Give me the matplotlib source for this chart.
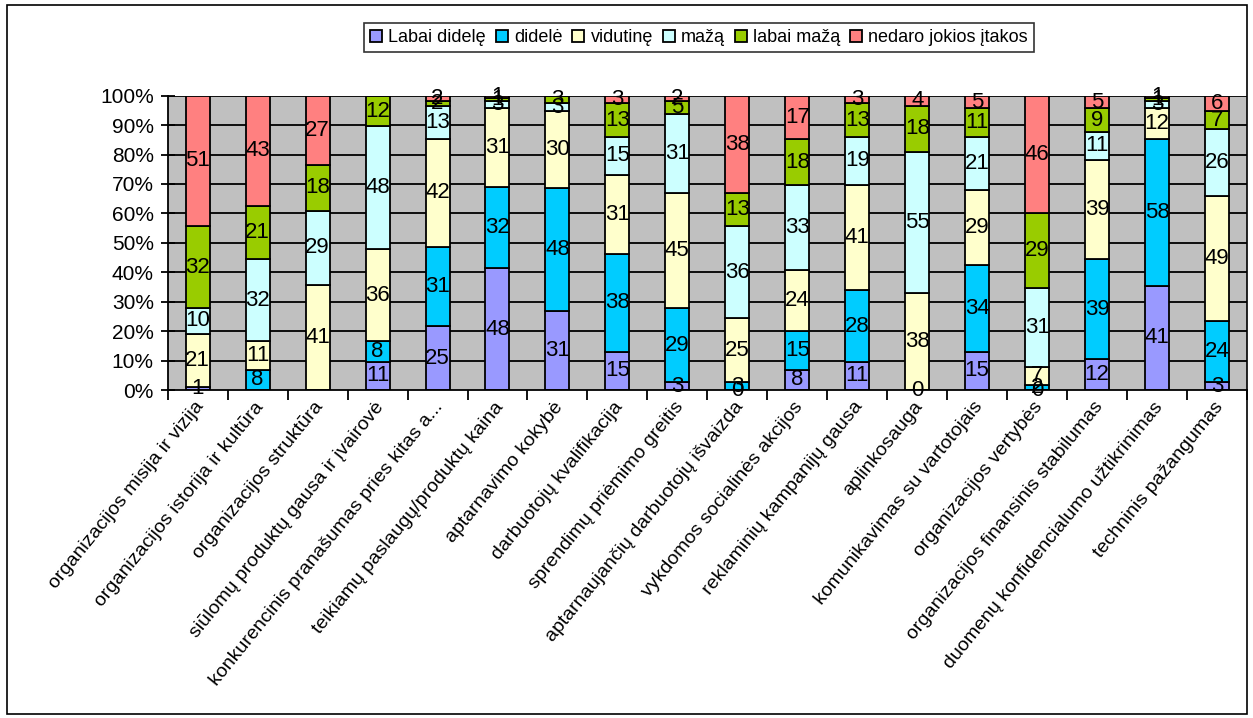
import numpy as np
import matplotlib
matplotlib.use("Agg")
import matplotlib.pyplot as plt
from matplotlib.patches import Rectangle

plt.rcParams['font.family'] = ['Liberation Sans', 'DejaVu Sans']

categories = [
    "organizacijos misija ir vizija",
    "organizacijos istorija ir kultūra",
    "organizacijos struktūra",
    "siūlomų produktų gausa ir įvairovė",
    "konkurencinis pranašumas pries kitas a...",
    "teikiamų paslaugų/produktų kaina",
    "aptarnavimo kokybė",
    "darbuotojų kvalifikacija",
    "sprendimų priėmimo greitis",
    "aptarnaujančių darbuotojų išvaizda",
    "vykdomos socialinės akcijos",
    "reklaminių kampanijų gausa",
    "aplinkosauga",
    "komunikavimas su vartotojais",
    "organizacijos vertybės",
    "organizacijos finansinis stabilumas",
    "duomenų konfidencialumo užtikrinimas",
    "techninis pažangumas",
]

nan = np.nan
labai_didele = [1, nan, nan, 11, 25, 48, 31, 15, 3, 0, 8, 11, 0, 15, 0, 12, 41, 3]
didele       = [nan, 8, nan, 8, 31, 32, 48, 38, 29, 3, 15, 28, nan, 34, 2, 39, 58, 24]
vidutine     = [21, 11, 41, 36, 42, 31, 30, 31, 45, 25, 24, 41, 38, 29, 7, 39, 12, 49]
maza         = [10, 32, 29, 48, 13, 3, 3, 15, 31, 36, 33, 19, 55, 21, 31, 11, 3, 26]
labai_maza   = [32, 21, 18, 12, 2, 1, 3, 13, 5, 13, 18, 13, 18, 11, 29, 9, 1, 7]
nedaro       = [51, 43, 27, nan, 2, 1, nan, 3, 2, 38, 17, 3, 4, 5, 46, 5, 1, 6]

series_names = ["Labai didelę", "didelė", "vidutinę", "mažą", "labai mažą",
                "nedaro jokios įtakos"]
series_colors = ["#9999FF", "#00CCFF", "#FFFFCC", "#CCFFFF", "#99CC00", "#FF8080"]
y_ticks = [0, 10, 20, 30, 40, 50, 60, 70, 80, 90, 100]

data = np.array([labai_didele, didele, vidutine, maza, labai_maza, nedaro], dtype=float)
totals = np.nansum(data, axis=0)
shares = np.nan_to_num(data) / totals * 100.0

W, H = 1253, 718
fig = plt.figure(figsize=(W / 100, H / 100), dpi=100)
fig.patch.set_facecolor("white")

# chart frame
fig.add_artist(Rectangle((7 / W, 4 / H), 1240 / W, 709 / H, transform=fig.transFigure,
                         fill=False, edgecolor="black", linewidth=1.2))

left, right, top, bottom = 167.7, 1247.0, 95.7, 390.0
ax = fig.add_axes([left / W, 1 - bottom / H, (right - left) / W, (bottom - top) / H])
ax.set_facecolor("#C0C0C0")

x = np.arange(len(categories))
ax.set_xlim(-0.5, len(categories) - 0.5)
ax.set_ylim(0, 100)

for yv in y_ticks[1:]:
    ax.axhline(yv, color="black", linewidth=1.3, zorder=1)

base = np.zeros(len(categories))
for i, (name, col) in enumerate(zip(series_names, series_colors)):
    ax.bar(x, shares[i], width=0.4, bottom=base, color=col, edgecolor="black",
           linewidth=1.3, label=name, zorder=2)
    for j in range(len(categories)):
        if not np.isnan(data[i, j]):
            ax.text(x[j], base[j] + shares[i, j] / 2, f"{int(data[i, j])}",
                    ha="center", va="center", fontsize=16, color="black", zorder=3)
    base = base + shares[i]

for s in ["top", "right"]:
    ax.spines[s].set_visible(False)
ax.spines["left"].set_linewidth(1.3)
ax.spines["bottom"].set_linewidth(1.3)

ax.set_yticks(y_ticks)
ax.set_yticklabels([f"{v}%" for v in y_ticks], fontsize=15)
ax.tick_params(axis="y", direction="inout", length=10, width=1.3, pad=5)

# category boundary ticks
ax.set_xticks(np.arange(-0.5, len(categories), 1.0))
ax.set_xticklabels([])
ax.tick_params(axis="x", direction="out", length=7, width=1.3)

for j, cat in enumerate(categories):
    ax.annotate(cat, xy=(x[j], 0), xycoords=("data", "axes fraction"),
                xytext=(2, -10), textcoords="offset points",
                ha="right", va="center", rotation=51, rotation_mode="anchor",
                fontsize=14)

leg = fig.legend(loc="center", bbox_to_anchor=(699 / W, 1 - 37.5 / H), ncol=6,
                 fontsize=13, frameon=True, fancybox=False, edgecolor="black",
                 handlelength=0.65, handleheight=0.65, handletextpad=0.35,
                 columnspacing=0.55, borderpad=0.35)
leg.get_frame().set_linewidth(1.2)

fig.savefig("out.png", dpi=100)
